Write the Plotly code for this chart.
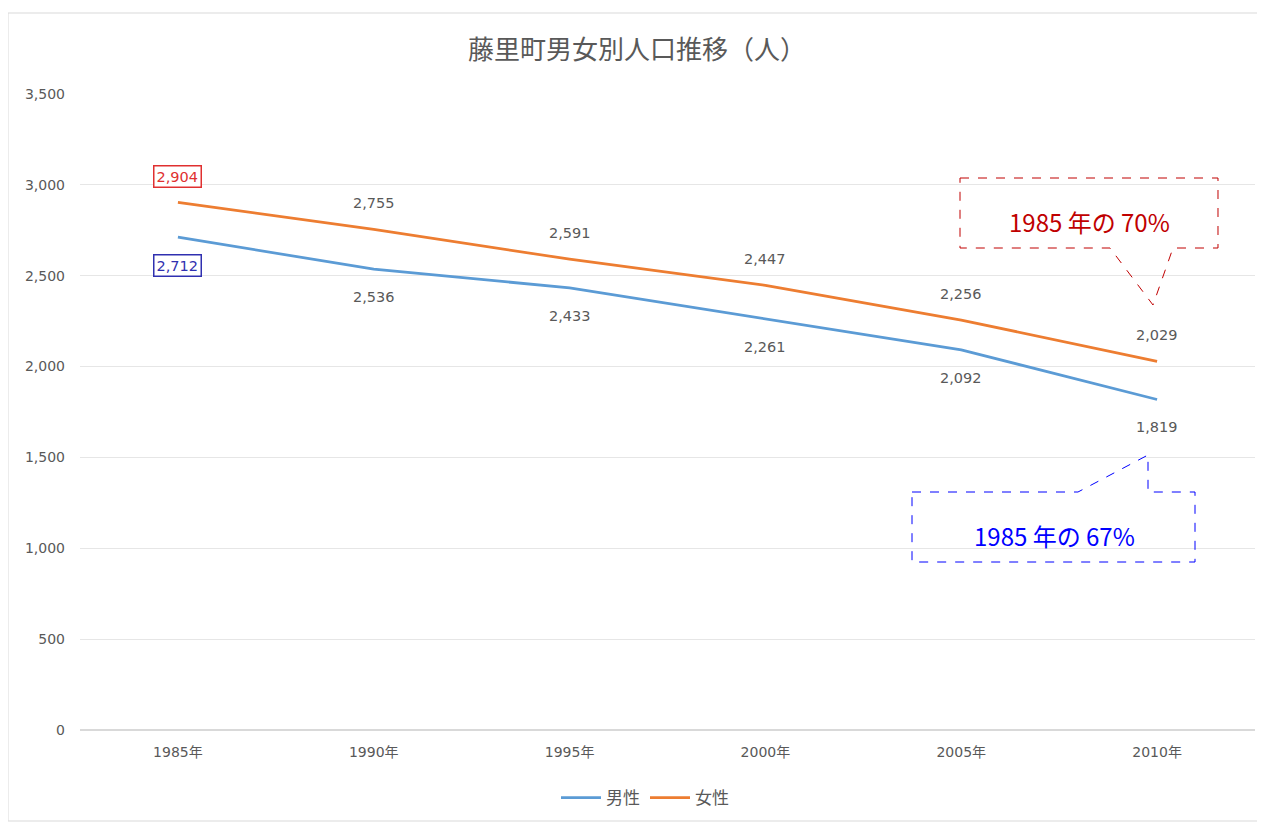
import plotly.graph_objects as go

years = ["1985年", "1990年", "1995年", "2000年", "2005年", "2010年"]
male = [2712, 2536, 2433, 2261, 2092, 1819]
female = [2904, 2755, 2591, 2447, 2256, 2029]
y_ticks = [0, 500, 1000, 1500, 2000, 2500, 3000, 3500]

# page body margin offset of the plotly div
OFF = 8
W, H = 1265 - OFF, 822 - OFF
# plot area in reference pixels
PL, PR, PT, PB = 80, 1255, 94, 730
L, R, T, B = PL - OFF, W - (PR - OFF), PT - OFF, H - (PB - OFF)
PW, PH = PR - PL, PB - PT

def px(x):
    return (x - PL) / PW

def py(y):
    return (PB - y) / PH

def path(points):
    return "M " + " L ".join(f"{px(a):.5f},{py(b):.5f}" for a, b in points) + " Z"

FONT = "Noto Sans CJK JP"
NUMFONT = "DejaVu Sans, Noto Sans CJK JP"
GREY = "#595959"
BLUE = "#5B9BD5"
ORANGE = "#ED7D31"

fig = go.Figure()
fig.add_trace(go.Scatter(x=years, y=male, mode="lines", name="男性",
                         line=dict(color=BLUE, width=2.75)))
fig.add_trace(go.Scatter(x=years, y=female, mode="lines", name="女性",
                         line=dict(color=ORANGE, width=2.75)))

annotations = []
for i, (yr, v) in enumerate(zip(years, female)):
    a = dict(x=yr, y=v, text=f"{v:,}", showarrow=False, yshift=26,
             font=dict(family=NUMFONT, size=14.5, color=GREY))
    if i == 0:
        a.update(bordercolor="#e03030", borderwidth=1.5, borderpad=2,
                 font=dict(family=NUMFONT, size=14.5, color="#e03030"), bgcolor="white")
    annotations.append(a)
for i, (yr, v) in enumerate(zip(years, male)):
    a = dict(x=yr, y=v, text=f"{v:,}", showarrow=False, yshift=-28,
             font=dict(family=NUMFONT, size=14.5, color=GREY))
    if i == 0:
        a.update(bordercolor="#3030b0", borderwidth=1.5, borderpad=2,
                 font=dict(family=NUMFONT, size=14.5, color="#3030b0"), bgcolor="white")
    annotations.append(a)

annotations.append(dict(xref="paper", yref="paper", x=px(1089), y=py(222),
                        xanchor="center", yanchor="middle",
                        text="1985 年の 70%", showarrow=False,
                        font=dict(family=FONT, size=24, color="#C00000")))
annotations.append(dict(xref="paper", yref="paper", x=px(1054), y=py(535),
                        xanchor="center", yanchor="middle",
                        text="1985 年の 67%", showarrow=False,
                        font=dict(family=FONT, size=24, color="#0000FF")))

shapes = [
    dict(type="rect", xref="paper", yref="paper", x0=px(8), x1=px(1264), y0=py(13), y1=py(821),
         line=dict(color="#d9d9d9", width=1), layer="below"),
    dict(type="path", xref="paper", yref="paper",
         path=path([(960, 178), (1218, 178), (1218, 248), (1173, 248), (1153, 305), (1110, 248), (960, 248)]),
         line=dict(color="#C00000", width=1, dash="dash"), fillcolor="rgba(0,0,0,0)"),
    dict(type="path", xref="paper", yref="paper",
         path=path([(912, 492), (1078, 492), (1148, 455), (1148, 492), (1195, 492), (1195, 562), (912, 562)]),
         line=dict(color="#0000FF", width=1, dash="dash"), fillcolor="rgba(0,0,0,0)"),
]

fig.update_layout(
    width=W, height=H,
    margin=dict(l=L, r=R, t=T, b=B, autoexpand=False),
    paper_bgcolor="white", plot_bgcolor="white",
    title=dict(text="藤里町男女別人口推移（人）", xref="container", x=(637 - OFF) / W, xanchor="center",
               y=1 - (50 - OFF) / H, yanchor="middle",
               font=dict(family=FONT, size=26, color=GREY)),
    xaxis=dict(type="category", showgrid=False, zeroline=False, showline=False,
               ticks="", tickfont=dict(family=NUMFONT, size=14, color=GREY), ticklabelstandoff=12,
               range=[-0.5, 5.5], automargin=False),
    yaxis=dict(range=[0, 3500], tickvals=y_ticks, tickformat=",", showgrid=True,
               gridcolor="#e6e6e6", gridwidth=1, zeroline=True, zerolinecolor="#d9d9d9",
               showline=False, ticks="", ticklabelstandoff=14, automargin=False,
               tickfont=dict(family=NUMFONT, size=14, color=GREY)),
    legend=dict(orientation="h", x=px(645), xanchor="center", y=py(798), yanchor="middle",
                font=dict(family=FONT, size=17, color=GREY), itemwidth=40),
    annotations=annotations,
    shapes=shapes,
    font=dict(family=FONT),
)

fig.write_html("out.html")
